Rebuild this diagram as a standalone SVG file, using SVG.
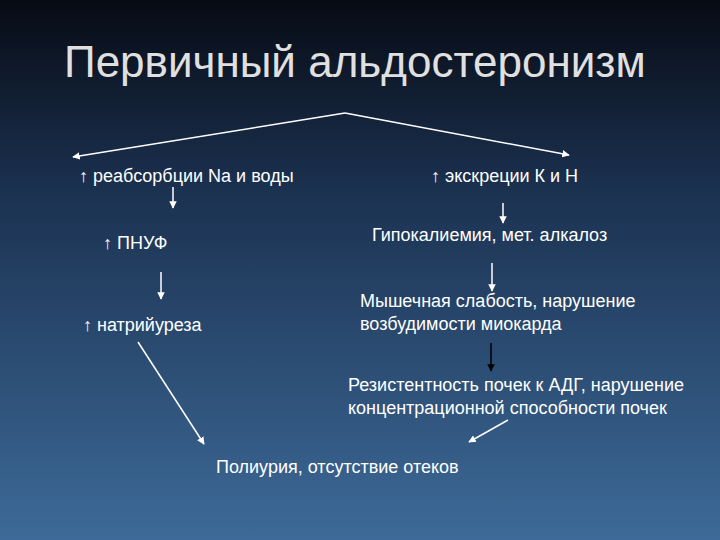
<svg xmlns="http://www.w3.org/2000/svg" width="720" height="540" viewBox="0 0 720 540">
<defs>
<linearGradient id="bg" x1="0" y1="0" x2="0" y2="1">
<stop offset="0" stop-color="#070b14"/>
<stop offset="0.35" stop-color="#1b3150"/>
<stop offset="1" stop-color="#3d6a98"/>
</linearGradient>
<marker id="aw" viewBox="0 0 10 10" refX="9" refY="5" markerWidth="5" markerHeight="5" orient="auto"><path d="M0,0 L10,5 L0,10 z" fill="#fff"/></marker>
<marker id="ab" viewBox="0 0 10 10" refX="9" refY="5" markerWidth="5" markerHeight="5" orient="auto"><path d="M0,0 L10,5 L0,10 z" fill="#000"/></marker>
<style>
text{font-family:"Liberation Sans",Arial,sans-serif;fill:#fff;font-size:18px}
.t{font-size:44px;fill:#e0e0e0}
.w{stroke:#fff;stroke-width:1.5;fill:none;marker-end:url(#aw)}
.b{stroke:#000;stroke-width:1.5;fill:none;marker-end:url(#ab)}
</style>
</defs>
<rect width="720" height="540" fill="url(#bg)"/>
<text class="t" x="64" y="77">Первичный альдостеронизм</text>
<g id="connectors">
<polyline class="w" points="345,113 73,157"/>
<polyline class="w" points="345,113 569,155"/>
<line class="w" x1="173" y1="187" x2="173" y2="208"/>
<line class="w" x1="161" y1="272" x2="161" y2="299"/>
<line class="w" x1="503" y1="203" x2="503" y2="223"/>
<line class="w" x1="492" y1="263" x2="492" y2="291"/>
<line class="b" x1="491" y1="343" x2="491" y2="371"/>
<line class="w" x1="138" y1="342" x2="204" y2="444"/>
<line class="w" x1="508" y1="420" x2="469" y2="442"/>
</g>
<g id="n1"><text x="79" y="182">↑ реабсорбции Na и воды</text></g>
<g id="n2"><text x="431" y="182">↑ экскреции К и Н</text></g>
<g id="n3"><text x="103" y="249">↑ ПНУФ</text></g>
<g id="n4"><text x="372" y="241">Гипокалиемия, мет. алкалоз</text></g>
<g id="n5"><text x="83" y="331">↑ натрийуреза</text></g>
<g id="n6"><text x="360" y="307">Мышечная слабость, нарушение</text><text x="360" y="330">возбудимости миокарда</text></g>
<g id="n7"><text x="348" y="391">Резистентность почек к АДГ, нарушение</text><text x="348" y="414">концентрационной способности почек</text></g>
<g id="n8"><text x="216" y="473">Полиурия, отсутствие отеков</text></g>
</svg>
